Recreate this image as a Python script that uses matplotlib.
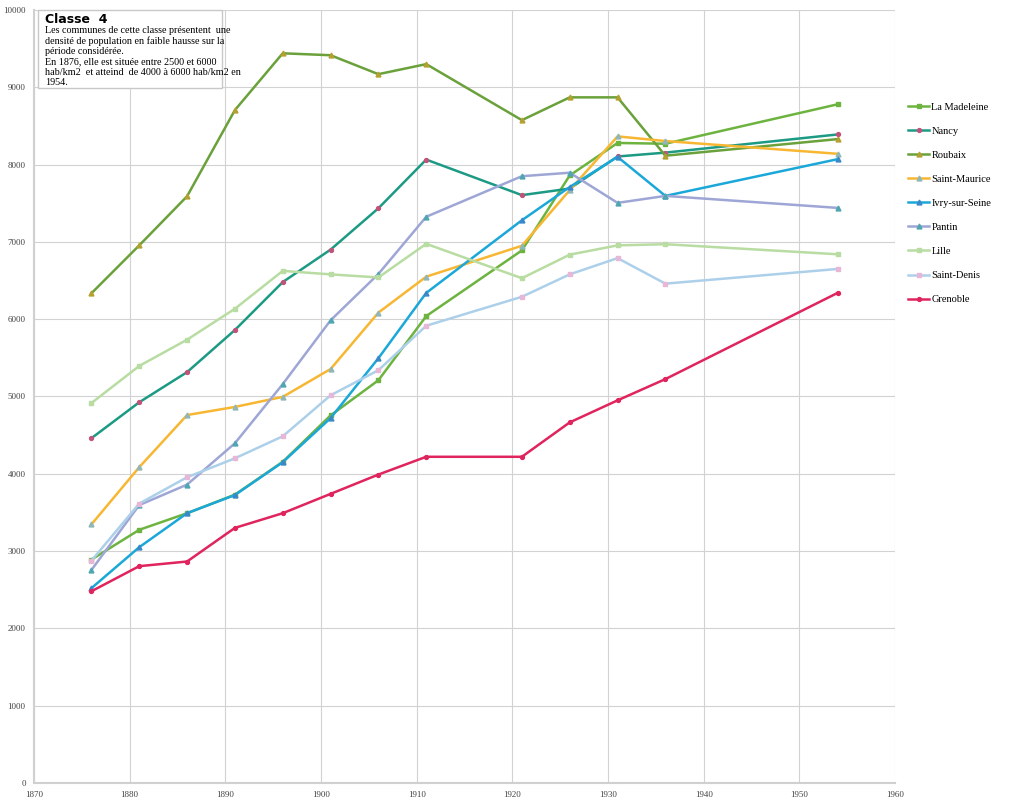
import matplotlib
matplotlib.use("Agg")
import matplotlib.pyplot as plt

#------------------------------ données (hab/km2)
annees = [1876, 1881, 1886, 1891, 1896, 1901, 1906, 1911, 1921, 1926, 1931, 1936, 1954]

la_madeleine = [2890, 3275, 3490, 3730, 4155, 4755, 5210, 6040, 6890, 7860, 8280, 8270, 8780]
nancy = [4460, 4925, 5315, 5860, 6480, 6900, 7435, 8065, 7605, 7690, 8105, 8155, 8390]
roubaix = [6335, 6955, 7590, 8705, 9440, 9415, 9170, 9300, 8575, 8870, 8870, 8115, 8330]
saint_maurice = [3345, 4085, 4760, 4865, 4995, 5355, 6085, 6550, 6950, 7670, 8365, 8305, 8140]
ivry = [2520, 3050, 3490, 3725, 4150, 4720, 5495, 6340, 7280, 7710, 8100, 7595, 8070]
pantin = [2755, 3595, 3860, 4395, 5160, 5985, 6585, 7325, 7850, 7895, 7505, 7595, 7440]
lille = [4915, 5395, 5735, 6135, 6625, 6580, 6540, 6975, 6530, 6835, 6955, 6970, 6840]
saint_denis = [2875, 3615, 3955, 4200, 4485, 5015, 5340, 5915, 6290, 6580, 6790, 6460, 6650]
grenoble = [2480, 2805, 2865, 3300, 3490, 3740, 3990, 4220, 4220, 4665, 4950, 5225, 6340]

series = [
    ("La Madeleine", la_madeleine, "#6db33f", "s", "#6db33f"),
    ("Nancy", nancy, "#1c9a84", "o", "#c2527a"),
    ("Roubaix", roubaix, "#6aa13a", "^", "#b5a030"),
    ("Saint-Maurice", saint_maurice, "#f7b733", "^", "#8fb7b8"),
    ("Ivry-sur-Seine", ivry, "#1ba8d9", "^", "#3a88c8"),
    ("Pantin", pantin, "#9ea6d6", "^", "#4fa6b0"),
    ("Lille", lille, "#b8dca2", "s", "#b8dca2"),
    ("Saint-Denis", saint_denis, "#add0ea", "s", "#e8b6d6"),
    ("Grenoble", grenoble, "#e0245e", "o", "#e0245e"),
]

fig = plt.figure(figsize=(10.24, 8.01), dpi=100)
ax = fig.add_axes([0.0332, 0.0225, 0.8408, 0.965])

for nom, vals, col, mk, mcol in series:
    ax.plot(annees, vals, color=col, lw=1.8, marker=mk, ms=3.5 if mk != "o" else 2.8,
            mfc=mcol, mec=mcol, label=nom)

ax.set_xlim(1870, 1960)
ax.set_ylim(0, 10000)
ax.set_xticks(range(1870, 1961, 10))
ax.set_yticks(range(0, 10001, 1000))
ax.grid(True, color="#d2d2d2", lw=0.8)
ax.set_axisbelow(True)
for s in ["top", "right"]:
    ax.spines[s].set_visible(False)
for s in ["left", "bottom"]:
    ax.spines[s].set_color("#d0d0d0")
    ax.spines[s].set_linewidth(1.5)
ax.tick_params(length=0, labelsize=6.5, colors="#444444", pad=6)
for lab in ax.get_xticklabels() + ax.get_yticklabels():
    lab.set_family("Liberation Serif")

leg = fig.legend(loc="upper left", bbox_to_anchor=(0.878, 0.884), frameon=False,
                 labelspacing=1.42, handlelength=2.0, handletextpad=0.2,
                 prop={"family": "Liberation Serif", "size": 7.5})

# encadré de texte
box = plt.Rectangle((0.037, 0.89), 0.18, 0.098, transform=fig.transFigure,
                    facecolor="white", edgecolor="#c8c8c8", lw=1, zorder=5)
fig.patches.append(box)
fig.text(0.044, 0.976, "Classe  4", fontsize=9, fontweight="bold",
         family="DejaVu Sans", va="center", zorder=6)
corps = ("Les communes de cette classe présentent  une\n"
         "densité de population en faible hausse sur la\n"
         "période considérée.\n"
         "En 1876, elle est située entre 2500 et 6000\n"
         "hab/km2  et atteind  de 4000 à 6000 hab/km2 en\n"
         "1954.")
fig.text(0.044, 0.968, corps, fontsize=7.3, family="Liberation Serif",
         va="top", linespacing=1.2, zorder=6)

fig.savefig("out.png", dpi=100)
